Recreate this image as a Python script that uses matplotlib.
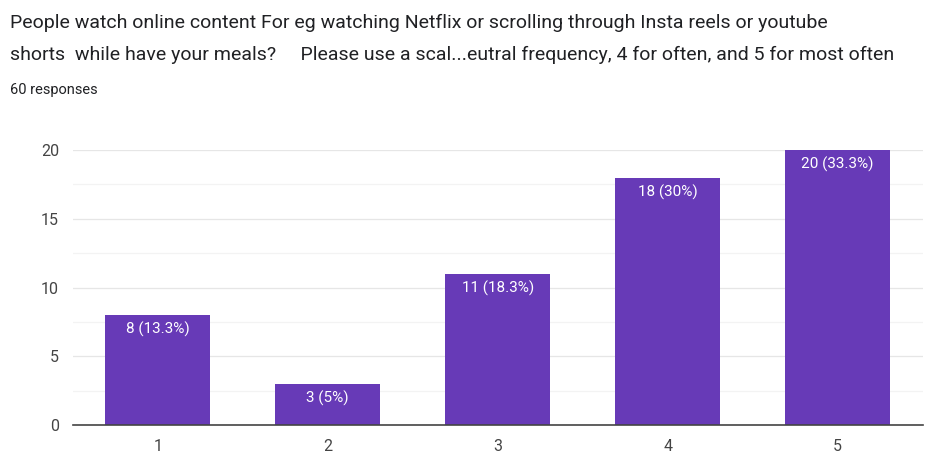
import matplotlib
matplotlib.use("Agg")
import matplotlib.pyplot as plt
from matplotlib.ticker import MultipleLocator

categories = ["1", "2", "3", "4", "5"]
counts = [8, 3, 11, 18, 20]
labels = ["8 (13.3%)", "3 (5%)", "11 (18.3%)", "18 (30%)", "20 (33.3%)"]

title1 = "People watch online content For eg watching Netflix or scrolling through Insta reels or youtube"
title2 = "shorts  while have your meals?     Please use a scal...eutral frequency, 4 for often, and 5 for most often"
subtitle = "60 responses"

plt.rcParams['font.family'] = ['Roboto', 'DejaVu Sans']

fig = plt.figure(figsize=(9.33, 4.66), dpi=100)
ax = fig.add_axes([0.078, 0.088, 0.911, 0.59])

x = list(range(len(categories)))
bars = ax.bar(x, counts, width=0.615, color="#673ab7", zorder=3)
for xi, c, lab in zip(x, counts, labels):
    ax.annotate(lab, (xi, c), xytext=(0, -5), textcoords="offset points",
                ha="center", va="top", color="white", fontsize=11, zorder=4)

ax.set_xlim(-0.5, len(categories) - 0.5)
ax.set_ylim(0, 20)
ax.yaxis.set_major_locator(MultipleLocator(5))
ax.yaxis.set_minor_locator(MultipleLocator(2.5))
ax.grid(axis="y", which="major", color="#e6e6e6", linewidth=0.9, zorder=0)
ax.grid(axis="y", which="minor", color="#f3f3f3", linewidth=0.9, zorder=0)
ax.set_xticks(x)
ax.set_xticklabels(categories)
for s in ["top", "right", "left"]:
    ax.spines[s].set_visible(False)
ax.spines["bottom"].set_color("#444444")
ax.spines["bottom"].set_linewidth(1.2)
ax.spines["bottom"].set_zorder(5)
ax.tick_params(axis="both", which="both", length=0, colors="#444444", labelsize=11.5)
ax.tick_params(axis="y", pad=10)
ax.tick_params(axis="x", pad=10)

fig.text(0.011, 0.951, title1, fontsize=14, color="#202124", va="center", ha="left")
fig.text(0.011, 0.882, title2, fontsize=14, color="#202124", va="center", ha="left")
fig.text(0.011, 0.807, subtitle, fontsize=10.5, color="#202124", va="center", ha="left")

fig.savefig("out.png", dpi=100)
